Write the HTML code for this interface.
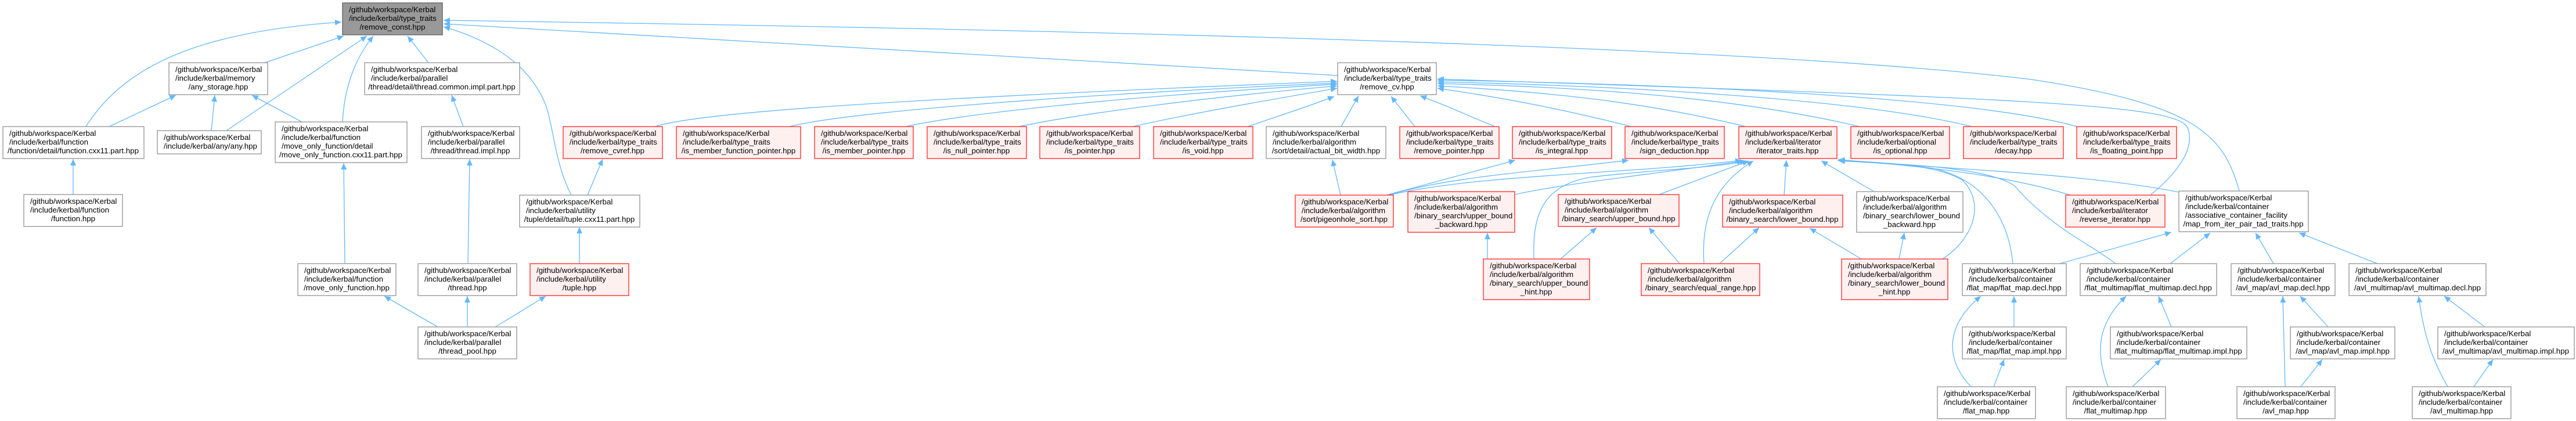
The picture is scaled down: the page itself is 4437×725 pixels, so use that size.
<!DOCTYPE html>
<html><head><meta charset="utf-8"><style>
html,body{margin:0;padding:0;background:#fff;}
svg{display:block;}
text{font-family:"Liberation Sans",Arial,sans-serif;font-size:13.3px;fill:#000;}
.w{fill:#fff;stroke:#999;stroke-width:1.4;}
.r{fill:#fff0f0;stroke:#f33;stroke-width:1.4;}
.g{fill:#999;stroke:#666;stroke-width:1.4;}
.e{fill:none;stroke:#63b8ff;stroke-width:1.3;marker-end:url(#a);}
.c{text-anchor:middle;}
</style></head><body>
<svg width="4437" height="725" viewBox="0 0 4437 725" xmlns="http://www.w3.org/2000/svg">
<defs><marker id="a" markerUnits="userSpaceOnUse" markerWidth="12" markerHeight="10" refX="11" refY="5" orient="auto"><path d="M0,0 L11,5 L0,10 z" fill="#63b8ff"/></marker></defs>

<!-- edges -->
<path class="e" d="M148,218 C210,120 330,55 588,38"/>
<path class="e" d="M188,218 L303,164"/>
<path class="e" d="M456,108 L592,62"/>
<path class="e" d="M364,225 L370,164"/>
<path class="e" d="M390,225 L632,62"/>
<path class="e" d="M520,210 L434,164"/>
<path class="e" d="M590,210 C593,150 612,100 643,62"/>
<path class="e" d="M126,335 L126,274"/>
<path class="e" d="M594,454 L592,281"/>
<path class="e" d="M754,563 L662,510"/>
<path class="e" d="M738,108 L702,62"/>
<path class="e" d="M798,218 L778,164"/>
<path class="e" d="M806,454 L809,274"/>
<path class="e" d="M805,563 L805,510"/>
<path class="e" d="M853,563 L940,510"/>
<path class="e" d="M998,454 L998,391"/>
<path class="e" d="M984,336 C950,270 955,200 930,160 C895,95 820,62 764,46"/>
<path class="e" d="M1012,336 L1038,274"/>
<path class="e" d="M2304,130 L764,41"/>
<path class="e" d="M3857,329 C3830,230 3780,180 3500,137 C3200,100 2500,60 764,35"/>

<path class="e" d="M1128,218 C1200,195 1500,172 2303,140"/>
<path class="e" d="M1360,218 C1450,195 1800,165 2303,143"/>
<path class="e" d="M1560,218 C1650,198 1900,168 2303,145"/>
<path class="e" d="M1755,218 C1850,198 2050,170 2303,148"/>
<path class="e" d="M1951,218 C2030,200 2150,178 2303,152"/>
<path class="e" d="M2149,218 C2200,200 2250,185 2298,166"/>
<path class="e" d="M2310,218 L2340,165"/>
<path class="e" d="M2437,218 L2396,166"/>
<path class="e" d="M2575,218 C2530,200 2500,185 2446,165"/>
<path class="e" d="M2810,218 C2700,190 2600,170 2476,152"/>
<path class="e" d="M3007,218 C2850,180 2700,160 2476,148"/>
<path class="e" d="M3203,218 C3000,170 2750,150 2476,144"/>
<path class="e" d="M3397,218 C3200,170 2800,148 2476,141"/>
<path class="e" d="M3578,218 C3400,168 2900,145 2476,138"/>
<path class="e" d="M3704,336 C3760,290 3780,250 3768,220 C3750,180 3500,170 2476,136"/>

<path class="e" d="M2309,336 L2295,275"/>
<path class="e" d="M2388,336 L2610,276"/>
<path class="e" d="M2390,336 C2500,305 2600,300 2805,276"/>
<path class="e" d="M2392,336 C2550,300 2800,300 3000,276"/>
<path class="e" d="M2609,335 C2700,315 2850,300 3003,277"/>
<path class="e" d="M2642,446 C2640,380 2650,320 2740,305 C2850,292 2950,290 3008,277"/>
<path class="e" d="M2855,336 L3012,277"/>
<path class="e" d="M2562,446 L2562,401"/>
<path class="e" d="M2688,446 L2750,392"/>
<path class="e" d="M2893,454 L2840,392"/>
<path class="e" d="M2935,454 C2930,380 2950,320 3020,277"/>
<path class="e" d="M2962,454 L3030,392"/>
<path class="e" d="M3073,336 L3077,276"/>
<path class="e" d="M3228,330 L3137,277"/>
<path class="e" d="M3206,446 L3117,393"/>
<path class="e" d="M3271,446 L3280,401"/>
<path class="e" d="M3346,446 C3400,410 3420,350 3380,310 C3330,280 3220,280 3165,276"/>
<path class="e" d="M3467,454 C3460,380 3420,310 3330,290 C3260,280 3200,278 3166,276"/>
<path class="e" d="M3644,454 C3600,420 3530,390 3470,320 C3420,285 3250,282 3167,277"/>
<path class="e" d="M3753,331 C3600,300 3350,290 3166,276"/>
<path class="e" d="M3566,336 C3450,300 3300,285 3166,275"/>
<path class="e" d="M3548,454 L3740,400"/>
<path class="e" d="M3738,454 L3807,401"/>
<path class="e" d="M3916,454 L3885,401"/>
<path class="e" d="M4095,454 L3960,401"/>

<path class="e" d="M3469,563 L3469,510"/>
<path class="e" d="M3395,666 C3350,620 3350,560 3412,510"/>
<path class="e" d="M3434,666 L3452,619"/>
<path class="e" d="M3740,563 L3718,510"/>
<path class="e" d="M3631,666 C3610,610 3610,560 3662,510"/>
<path class="e" d="M3673,666 L3722,619"/>
<path class="e" d="M4010,563 L3962,510"/>
<path class="e" d="M3936,666 L3932,510"/>
<path class="e" d="M3963,666 L4000,619"/>
<path class="e" d="M4280,563 L4210,510"/>
<path class="e" d="M4216,666 C4190,620 4175,580 4166,510"/>
<path class="e" d="M4261,666 L4294,619"/>

<!-- nodes -->
<rect class="g" x="590" y="5" width="172" height="55"/>
<text x="601" y="21">/github/workspace/Kerbal</text><text x="601" y="36">/include/kerbal/type_traits</text><text class="c" x="676" y="51">/remove_const.hpp</text>

<rect class="w" x="291" y="108" width="170" height="55"/>
<text x="302" y="124">/github/workspace/Kerbal</text><text x="302" y="139">/include/kerbal/memory</text><text class="c" x="376" y="154">/any_storage.hpp</text>

<rect class="w" x="628" y="108" width="267" height="55"/>
<text x="639" y="124">/github/workspace/Kerbal</text><text x="639" y="139">/include/kerbal/parallel</text><text class="c" x="761" y="154">/thread/detail/thread.common.impl.part.hpp</text>

<rect class="w" x="2304" y="108" width="170" height="55"/>
<text x="2315" y="124">/github/workspace/Kerbal</text><text x="2315" y="139">/include/kerbal/type_traits</text><text class="c" x="2389" y="154">/remove_cv.hpp</text>

<rect class="w" x="5" y="218" width="243" height="55"/>
<text x="16" y="234">/github/workspace/Kerbal</text><text x="16" y="249">/include/kerbal/function</text><text class="c" x="126" y="264">/function/detail/function.cxx11.part.hpp</text>

<rect class="w" x="271" y="225" width="179" height="40"/>
<text x="282" y="241">/github/workspace/Kerbal</text><text x="282" y="256">/include/kerbal/any/any.hpp</text>

<rect class="w" x="474" y="210" width="227" height="70"/>
<text x="485" y="226">/github/workspace/Kerbal</text><text x="485" y="241">/include/kerbal/function</text><text x="485" y="256">/move_only_function/detail</text><text class="c" x="587" y="271">/move_only_function.cxx11.part.hpp</text>

<rect class="w" x="726" y="218" width="169" height="55"/>
<text x="737" y="234">/github/workspace/Kerbal</text><text x="737" y="249">/include/kerbal/parallel</text><text class="c" x="810" y="264">/thread/thread.impl.hpp</text>

<rect class="r" x="970" y="218" width="171" height="55"/>
<text x="981" y="234">/github/workspace/Kerbal</text><text x="981" y="249">/include/kerbal/type_traits</text><text class="c" x="1055" y="264">/remove_cvref.hpp</text>

<rect class="r" x="1165" y="218" width="214" height="55"/>
<text x="1176" y="234">/github/workspace/Kerbal</text><text x="1176" y="249">/include/kerbal/type_traits</text><text class="c" x="1272" y="264">/is_member_function_pointer.hpp</text>

<rect class="r" x="1403" y="218" width="170" height="55"/>
<text x="1414" y="234">/github/workspace/Kerbal</text><text x="1414" y="249">/include/kerbal/type_traits</text><text class="c" x="1488" y="264">/is_member_pointer.hpp</text>

<rect class="r" x="1597" y="218" width="171" height="55"/>
<text x="1608" y="234">/github/workspace/Kerbal</text><text x="1608" y="249">/include/kerbal/type_traits</text><text class="c" x="1682" y="264">/is_null_pointer.hpp</text>

<rect class="r" x="1791" y="218" width="172" height="55"/>
<text x="1802" y="234">/github/workspace/Kerbal</text><text x="1802" y="249">/include/kerbal/type_traits</text><text class="c" x="1877" y="264">/is_pointer.hpp</text>

<rect class="r" x="1987" y="218" width="171" height="55"/>
<text x="1998" y="234">/github/workspace/Kerbal</text><text x="1998" y="249">/include/kerbal/type_traits</text><text class="c" x="2072" y="264">/is_void.hpp</text>

<rect class="w" x="2181" y="218" width="206" height="55"/>
<text x="2192" y="234">/github/workspace/Kerbal</text><text x="2192" y="249">/include/kerbal/algorithm</text><text class="c" x="2284" y="264">/sort/detail/actual_bit_width.hpp</text>

<rect class="r" x="2411" y="218" width="171" height="55"/>
<text x="2422" y="234">/github/workspace/Kerbal</text><text x="2422" y="249">/include/kerbal/type_traits</text><text class="c" x="2496" y="264">/remove_pointer.hpp</text>

<rect class="r" x="2605" y="218" width="171" height="55"/>
<text x="2616" y="234">/github/workspace/Kerbal</text><text x="2616" y="249">/include/kerbal/type_traits</text><text class="c" x="2690" y="264">/is_integral.hpp</text>

<rect class="r" x="2799" y="218" width="171" height="55"/>
<text x="2810" y="234">/github/workspace/Kerbal</text><text x="2810" y="249">/include/kerbal/type_traits</text><text class="c" x="2884" y="264">/sign_deduction.hpp</text>

<rect class="r" x="2995" y="218" width="169" height="55"/>
<text x="3006" y="234">/github/workspace/Kerbal</text><text x="3006" y="249">/include/kerbal/iterator</text><text class="c" x="3079" y="264">/iterator_traits.hpp</text>

<rect class="r" x="3188" y="218" width="170" height="55"/>
<text x="3199" y="234">/github/workspace/Kerbal</text><text x="3199" y="249">/include/kerbal/optional</text><text class="c" x="3273" y="264">/is_optional.hpp</text>

<rect class="r" x="3382" y="218" width="172" height="55"/>
<text x="3393" y="234">/github/workspace/Kerbal</text><text x="3393" y="249">/include/kerbal/type_traits</text><text class="c" x="3468" y="264">/decay.hpp</text>

<rect class="r" x="3577" y="218" width="172" height="55"/>
<text x="3588" y="234">/github/workspace/Kerbal</text><text x="3588" y="249">/include/kerbal/type_traits</text><text class="c" x="3663" y="264">/is_floating_point.hpp</text>

<rect class="w" x="41" y="335" width="170" height="55"/>
<text x="52" y="351">/github/workspace/Kerbal</text><text x="52" y="366">/include/kerbal/function</text><text class="c" x="126" y="381">/function.hpp</text>

<rect class="w" x="895" y="336" width="207" height="55"/>
<text x="906" y="352">/github/workspace/Kerbal</text><text x="906" y="367">/include/kerbal/utility</text><text class="c" x="998" y="382">/tuple/detail/tuple.cxx11.part.hpp</text>

<rect class="r" x="2231" y="336" width="169" height="55"/>
<text x="2242" y="352">/github/workspace/Kerbal</text><text x="2242" y="367">/include/kerbal/algorithm</text><text class="c" x="2315" y="382">/sort/pigeonhole_sort.hpp</text>

<rect class="r" x="2425" y="330" width="184" height="70"/>
<text x="2436" y="346">/github/workspace/Kerbal</text><text x="2436" y="361">/include/kerbal/algorithm</text><text x="2436" y="376">/binary_search/upper_bound</text><text class="c" x="2517" y="391">_backward.hpp</text>

<rect class="r" x="2684" y="335" width="208" height="55"/>
<text x="2695" y="351">/github/workspace/Kerbal</text><text x="2695" y="366">/include/kerbal/algorithm</text><text class="c" x="2788" y="381">/binary_search/upper_bound.hpp</text>

<rect class="r" x="2967" y="336" width="207" height="55"/>
<text x="2978" y="352">/github/workspace/Kerbal</text><text x="2978" y="367">/include/kerbal/algorithm</text><text class="c" x="3070" y="382">/binary_search/lower_bound.hpp</text>

<rect class="w" x="3198" y="330" width="183" height="70"/>
<text x="3209" y="346">/github/workspace/Kerbal</text><text x="3209" y="361">/include/kerbal/algorithm</text><text x="3209" y="376">/binary_search/lower_bound</text><text class="c" x="3289" y="391">_backward.hpp</text>

<rect class="r" x="3558" y="336" width="171" height="55"/>
<text x="3569" y="352">/github/workspace/Kerbal</text><text x="3569" y="367">/include/kerbal/iterator</text><text class="c" x="3643" y="382">/reverse_iterator.hpp</text>

<rect class="w" x="3753" y="329" width="223" height="70"/>
<text x="3764" y="345">/github/workspace/Kerbal</text><text x="3764" y="360">/include/kerbal/container</text><text x="3764" y="375">/associative_container_facility</text><text class="c" x="3864" y="390">/map_from_iter_pair_tad_traits.hpp</text>

<rect class="w" x="513" y="454" width="169" height="55"/>
<text x="524" y="470">/github/workspace/Kerbal</text><text x="524" y="485">/include/kerbal/function</text><text class="c" x="597" y="500">/move_only_function.hpp</text>

<rect class="w" x="720" y="454" width="170" height="55"/>
<text x="731" y="470">/github/workspace/Kerbal</text><text x="731" y="485">/include/kerbal/parallel</text><text class="c" x="805" y="500">/thread.hpp</text>

<rect class="r" x="913" y="454" width="170" height="55"/>
<text x="924" y="470">/github/workspace/Kerbal</text><text x="924" y="485">/include/kerbal/utility</text><text class="c" x="998" y="500">/tuple.hpp</text>

<rect class="r" x="2555" y="446" width="183" height="70"/>
<text x="2566" y="462">/github/workspace/Kerbal</text><text x="2566" y="477">/include/kerbal/algorithm</text><text x="2566" y="492">/binary_search/upper_bound</text><text class="c" x="2646" y="507">_hint.hpp</text>

<rect class="r" x="2827" y="454" width="204" height="55"/>
<text x="2838" y="470">/github/workspace/Kerbal</text><text x="2838" y="485">/include/kerbal/algorithm</text><text class="c" x="2929" y="500">/binary_search/equal_range.hpp</text>

<rect class="r" x="3172" y="446" width="183" height="70"/>
<text x="3183" y="462">/github/workspace/Kerbal</text><text x="3183" y="477">/include/kerbal/algorithm</text><text x="3183" y="492">/binary_search/lower_bound</text><text class="c" x="3263" y="507">_hint.hpp</text>

<rect class="w" x="3380" y="454" width="179" height="55"/>
<text x="3391" y="470">/github/workspace/Kerbal</text><text x="3391" y="485">/include/kerbal/container</text><text class="c" x="3469" y="500">/flat_map/flat_map.decl.hpp</text>

<rect class="w" x="3583" y="454" width="235" height="55"/>
<text x="3594" y="470">/github/workspace/Kerbal</text><text x="3594" y="485">/include/kerbal/container</text><text class="c" x="3700" y="500">/flat_multimap/flat_multimap.decl.hpp</text>

<rect class="w" x="3843" y="454" width="179" height="55"/>
<text x="3854" y="470">/github/workspace/Kerbal</text><text x="3854" y="485">/include/kerbal/container</text><text class="c" x="3932" y="500">/avl_map/avl_map.decl.hpp</text>

<rect class="w" x="4046" y="454" width="236" height="55"/>
<text x="4057" y="470">/github/workspace/Kerbal</text><text x="4057" y="485">/include/kerbal/container</text><text class="c" x="4164" y="500">/avl_multimap/avl_multimap.decl.hpp</text>

<rect class="w" x="720" y="563" width="170" height="55"/>
<text x="731" y="579">/github/workspace/Kerbal</text><text x="731" y="594">/include/kerbal/parallel</text><text class="c" x="805" y="609">/thread_pool.hpp</text>

<rect class="w" x="3380" y="563" width="179" height="55"/>
<text x="3391" y="579">/github/workspace/Kerbal</text><text x="3391" y="594">/include/kerbal/container</text><text class="c" x="3469" y="609">/flat_map/flat_map.impl.hpp</text>

<rect class="w" x="3635" y="563" width="235" height="55"/>
<text x="3646" y="579">/github/workspace/Kerbal</text><text x="3646" y="594">/include/kerbal/container</text><text class="c" x="3752" y="609">/flat_multimap/flat_multimap.impl.hpp</text>

<rect class="w" x="3945" y="563" width="180" height="55"/>
<text x="3956" y="579">/github/workspace/Kerbal</text><text x="3956" y="594">/include/kerbal/container</text><text class="c" x="4035" y="609">/avl_map/avl_map.impl.hpp</text>

<rect class="w" x="4199" y="563" width="235" height="55"/>
<text x="4210" y="579">/github/workspace/Kerbal</text><text x="4210" y="594">/include/kerbal/container</text><text class="c" x="4316" y="609">/avl_multimap/avl_multimap.impl.hpp</text>

<rect class="w" x="3337" y="666" width="169" height="55"/>
<text x="3348" y="682">/github/workspace/Kerbal</text><text x="3348" y="697">/include/kerbal/container</text><text class="c" x="3421" y="712">/flat_map.hpp</text>

<rect class="w" x="3559" y="666" width="171" height="55"/>
<text x="3570" y="682">/github/workspace/Kerbal</text><text x="3570" y="697">/include/kerbal/container</text><text class="c" x="3644" y="712">/flat_multimap.hpp</text>

<rect class="w" x="3853" y="666" width="169" height="55"/>
<text x="3864" y="682">/github/workspace/Kerbal</text><text x="3864" y="697">/include/kerbal/container</text><text class="c" x="3937" y="712">/avl_map.hpp</text>

<rect class="w" x="4155" y="666" width="170" height="55"/>
<text x="4166" y="682">/github/workspace/Kerbal</text><text x="4166" y="697">/include/kerbal/container</text><text class="c" x="4240" y="712">/avl_multimap.hpp</text>
</svg>
</body></html>
